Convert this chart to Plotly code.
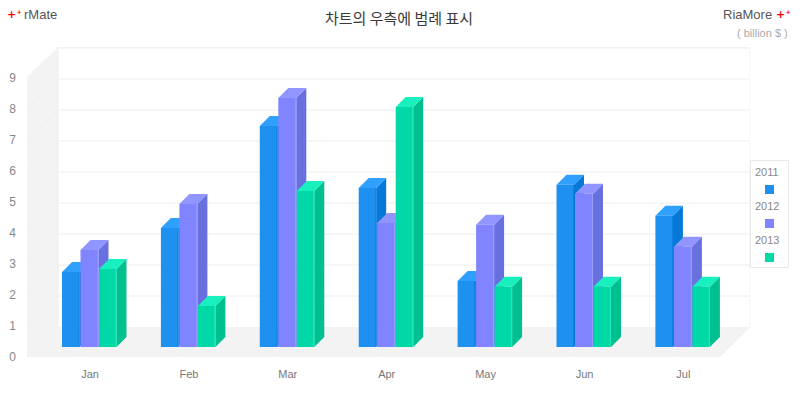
import plotly.graph_objects as go

categories = ["Jan", "Feb", "Mar", "Apr", "May", "Jun", "Jul"]
series_names = ["2011", "2012", "2013"]
values_2011 = [2.42, 3.84, 7.13, 5.13, 2.13, 5.23, 4.23]
values_2012 = [3.13, 4.61, 8.03, 4.00, 3.94, 4.94, 3.23]
values_2013 = [2.52, 1.32, 5.03, 7.74, 1.94, 1.94, 1.94]
value_ticks = list(range(10))

front_cols = ["#1E90F0", "#8085FF", "#00D8A8"]
side_cols = ["#0678D8", "#6870E0", "#00C090"]
top_cols = ["#30A0FF", "#9095FF", "#18F0C0"]
edge_cols = ["#0F80E8", "#9A9EFF", "#25E8BC"]

# Page geometry (pixels)
W, H = 800, 400
L, R, T, B = 27, 750, 47, 357
PX_PER_UNIT = 31.0
PX_PER_CAT = 98.9
TICK0_PX = 90.0
X0 = (L - TICK0_PX) / PX_PER_CAT
X1 = (R - TICK0_PX) / PX_PER_CAT
YMAX = (B - T) / PX_PER_UNIT


def dx(px):
    return px / PX_PER_CAT


def dy(px):
    return px / PX_PER_UNIT


def pap_x(px):
    return (px - L) / (R - L)


def pap_y(py):
    return (B - py) / (B - T)


WALL = 31
DEPTH_FRONT = 10
DEPTH = 10
BAR_OFFSETS = [-28, -9.5, 9]
BAR_W = [17.5, 18, 17.5]

fig = go.Figure()


def add_poly(xs, ys, color, name):
    fig.add_trace(go.Scatter(x=xs, y=ys, mode="lines", fill="toself", fillcolor=color,
                             line=dict(width=0, color=color), hoverinfo="skip",
                             showlegend=False, name=name))


for s, vals in enumerate([values_2011, values_2012, values_2013]):
    fx, fy, sx, sy, tx, ty, ex, ey = [], [], [], [], [], [], [], []
    for i, v in enumerate(vals):
        x0 = i + dx(BAR_OFFSETS[s])
        x1 = x0 + dx(BAR_W[s])
        yb = dy(DEPTH_FRONT)
        yt = v + yb
        d_x, d_y = dx(DEPTH), dy(DEPTH)
        fx += [x0, x1, x1, x0, x0, None]
        fy += [yb, yb, yt, yt, yb, None]
        sx += [x1, x1 + d_x, x1 + d_x, x1, x1, None]
        sy += [yb, yb + d_y, yt + d_y, yt, yb, None]
        tx += [x0, x1, x1 + d_x, x0 + d_x, x0, None]
        ty += [yt, yt, yt + d_y, yt + d_y, yt, None]
        e0 = x1 - dx(1)
        ex += [e0, x1, x1, e0, e0, None]
        ey += [yb, yb, yt, yt, yb, None]
    name = series_names[s]
    add_poly(sx, sy, side_cols[s], name + " side")
    add_poly(tx, ty, top_cols[s], name + " top")
    add_poly(fx, fy, front_cols[s], name)
    add_poly(ex, ey, edge_cols[s], name + " edge")

shapes = []
wall_c = "#F3F3F3"
line_c = "#EEEEEE"
wx, wy = dx(WALL), dy(30)
back_l, back_r = X0 + wx, X1
front_r = X1 - wx
# left wall and floor
shapes.append(dict(type="path", layer="below", xref="x", yref="y", line=dict(width=0), fillcolor=wall_c,
                   path=f"M {X0} 0 L {back_l} {wy} L {back_l} {YMAX} L {X0} {YMAX - wy} Z"))
shapes.append(dict(type="path", layer="below", xref="x", yref="y", line=dict(width=0), fillcolor=wall_c,
                   path=f"M {X0} 0 L {back_l} {wy} L {back_r} {wy} L {front_r} 0 Z"))
# back wall outline
shapes.append(dict(type="path", layer="below", xref="x", yref="y", line=dict(width=1, color=line_c),
                   path=f"M {back_l} {wy} L {back_l} {YMAX} L {back_r} {YMAX} L {back_r} {wy} L {front_r} 0 L {X0} 0"))
# back wall grid and faint wall diagonals
for t in value_ticks[1:]:
    shapes.append(dict(type="line", layer="below", xref="x", yref="y", x0=back_l, x1=back_r,
                       y0=t + wy, y1=t + wy, line=dict(width=1, color=line_c)))
for t in value_ticks[:-1]:
    shapes.append(dict(type="line", layer="below", xref="x", yref="y", x0=X0, x1=back_l,
                       y0=t, y1=t + wy, line=dict(width=1, color="#EFEFEF")))
for i in range(len(categories)):
    bx = i + dx(-12)
    shapes.append(dict(type="line", layer="below", xref="x", yref="y", x0=bx, x1=bx + wx,
                       y0=0, y1=wy, line=dict(width=1, color="#EFEFEF")))

# legend block
shapes.append(dict(type="rect", xref="paper", yref="paper", x0=pap_x(750.5), x1=pap_x(788.5),
                   y0=pap_y(267.5), y1=pap_y(160.5), line=dict(width=1, color="#E8E8E8"),
                   fillcolor="#FFFFFF"))
annotations = []


def text(px, py, s, size, color, anchor="center", family="Liberation Sans"):
    annotations.append(dict(xref="paper", yref="paper", x=pap_x(px), y=pap_y(py), text=s,
                            showarrow=False, xanchor=anchor, yanchor="middle", borderpad=0,
                            font=dict(size=size, color=color, family=family)))


for k, name in enumerate(series_names):
    ty0 = 172 + 34 * k
    text(767.5, ty0, name, 11, "#888888")
    shapes.append(dict(type="rect", xref="paper", yref="paper", x0=pap_x(765), x1=pap_x(774),
                       y0=pap_y(ty0 + 22), y1=pap_y(ty0 + 13), line=dict(width=0),
                       fillcolor=front_cols[k]))

PLUS = "<b>+\u207a</b>"
text(399, 17, "차트의 우측에 범례 표시", 15, "#3A3A3A", family="Noto Sans CJK KR")
text(23, 15, "rMate", 13, "#555555", "left")
text(773, 15, "RiaMore", 13, "#555555", "right")
text(789, 33, "( billion $ )", 11, "#AAAAAA", "right")
text(22.5, 15, PLUS, 11, "#FF0000", "right", "DejaVu Sans")
text(775, 15, PLUS, 11, "#FF0000", "left", "DejaVu Sans")

fig.update_layout(
    width=W, height=H, autosize=False,
    margin=dict(l=L, r=W - R, t=T, b=H - B, pad=0, autoexpand=False),
    paper_bgcolor="#FFFFFF", plot_bgcolor="rgba(0,0,0,0)",
    showlegend=False, shapes=shapes, annotations=annotations,
    font=dict(family="Liberation Sans", color="#777777"),
    xaxis=dict(range=[X0, X1], tickmode="array", tickvals=list(range(len(categories))),
               ticktext=categories, showgrid=False, zeroline=False, showline=False,
               ticks="", ticklabelstandoff=9, tickfont=dict(size=11, color="#777777"), fixedrange=True),
    yaxis=dict(range=[0, YMAX], tickmode="array", tickvals=value_ticks,
               ticktext=[str(t) for t in value_ticks], showgrid=False, zeroline=False, showline=False,
               ticks="", ticklabelstandoff=10, tickfont=dict(size=12, color="#888888"), fixedrange=True),
)
fig.write_html("out.html", config={"displayModeBar": False},
               post_script="document.body.style.margin='0';")
